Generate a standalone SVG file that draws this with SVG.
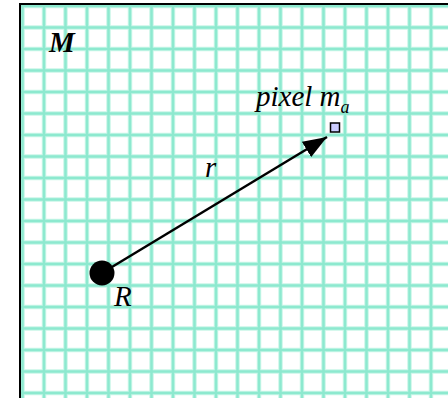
<svg xmlns="http://www.w3.org/2000/svg" width="448" height="398" viewBox="0 0 448 398">
<defs>
<style>
.gh{stroke:#c9f6e8;stroke-width:4.5}
.gc{stroke:#8de9cf;stroke-width:2.5}
.t{font-family:"Liberation Serif",serif;font-style:italic;font-size:29px;fill:#000}
</style>
<marker id="ah2" viewBox="0 0 24 18" refX="24" refY="9" markerWidth="24" markerHeight="18" markerUnits="userSpaceOnUse" orient="auto">
<path d="M0,0 L24,9 L0,18 z" fill="#000"/>
</marker>
</defs>
<rect width="448" height="398" fill="#fff"/>
<g id="grid">
<path class="gh" d="M22.5,4V398M44,4V398M65.5,4V398M87,4V398M108.5,4V398M130,4V398M151.5,4V398M173,4V398M194.5,4V398M216,4V398M237.5,4V398M259,4V398M280.5,4V398M302,4V398M323.5,4V398M345,4V398M366.5,4V398M388,4V398M409.5,4V398M431,4V398M20,6H448M20,27.5H448M20,49H448M20,70.5H448M20,92H448M20,113.5H448M20,135H448M20,156.5H448M20,178H448M20,199.5H448M20,221H448M20,242.5H448M20,264H448M20,285.5H448M20,307H448M20,328.5H448M20,350H448M20,371.5H448M20,393H448"/>
<path class="gc" d="M22.5,4V398M44,4V398M65.5,4V398M87,4V398M108.5,4V398M130,4V398M151.5,4V398M173,4V398M194.5,4V398M216,4V398M237.5,4V398M259,4V398M280.5,4V398M302,4V398M323.5,4V398M345,4V398M366.5,4V398M388,4V398M409.5,4V398M431,4V398M20,6H448M20,27.5H448M20,49H448M20,70.5H448M20,92H448M20,113.5H448M20,135H448M20,156.5H448M20,178H448M20,199.5H448M20,221H448M20,242.5H448M20,264H448M20,285.5H448M20,307H448M20,328.5H448M20,350H448M20,371.5H448M20,393H448"/>
</g>
<g id="frame">
<path d="M20,398V4H448" fill="none" stroke="#000" stroke-width="2"/>
</g>
<g id="connectors">
<line x1="102" y1="273" x2="327" y2="137" stroke="#000" stroke-width="2.5" marker-end="url(#ah2)"/>
</g>
<g id="node-R">
<circle cx="102" cy="273" r="12.5" fill="#000"/>
<text class="t" x="114" y="306">R</text>
</g>
<g id="node-pixel">
<rect x="330.5" y="123" width="9" height="9" fill="#ccccff" stroke="#000" stroke-width="1.5"/>
<text class="t" x="256" y="106" font-size="27">pixel m<tspan font-size="18" dy="7">a</tspan></text>
</g>
<g id="label-r">
<text class="t" x="205" y="177">r</text>
</g>
<g id="label-M">
<text class="t" x="49" y="52" font-weight="bold" font-size="30">M</text>
</g>
</svg>
